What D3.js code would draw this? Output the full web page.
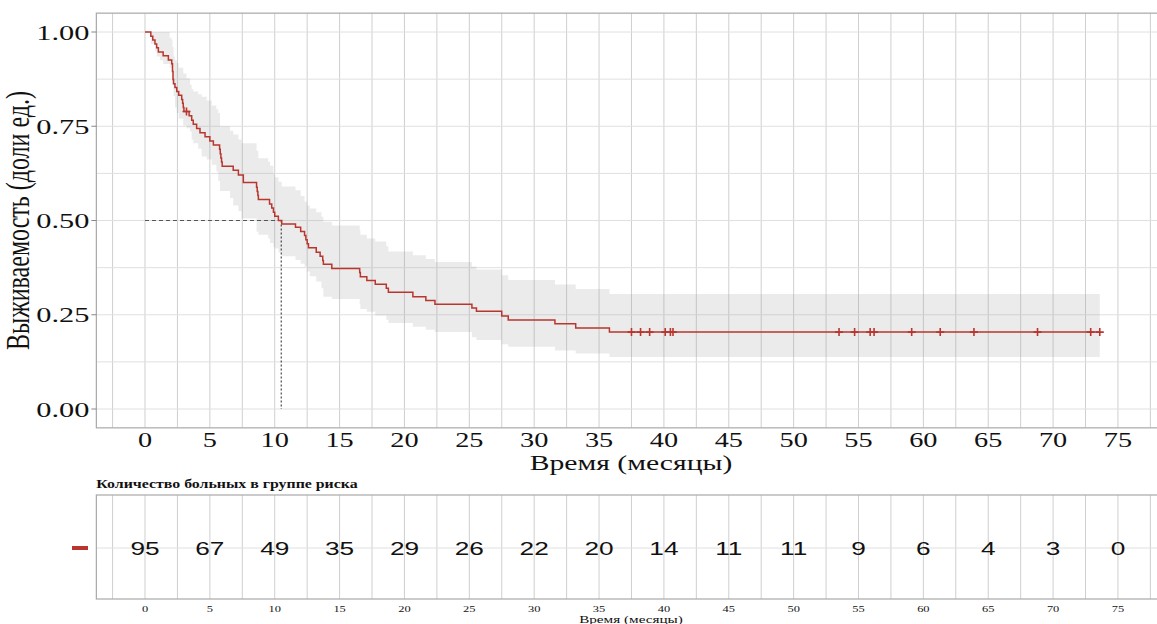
<!DOCTYPE html>
<html>
  <head>
    <meta charset="utf-8">
    <script src="https://cdn.jsdelivr.net/npm/d3@7/dist/d3.min.js"></script>
    <style>
      body { margin: 0; background: #fff; }
      text { font-family: "Liberation Serif", "DejaVu Serif", serif; fill: #111; }
      .grid-v { stroke: #cfcfcf; stroke-width: 1; }
      .grid-h { stroke: #e0e0e0; stroke-width: 1; }
    </style>
  </head>
  <body>
    <script>
      // survival curve steps (months, probability)
      const survTime = [0, 0.45, 0.6, 0.77, 0.9, 1.03, 1.4, 1.8, 2.06, 2.12, 2.16, 2.2, 2.31, 2.45, 2.6, 2.83, 2.9, 2.95, 3.0,
        3.4, 3.6, 3.72, 3.98, 4.24, 4.63, 5.0, 5.27, 5.75, 5.8, 5.85, 5.9, 5.95, 6.8, 7.2, 7.58,
        8.6, 8.65, 8.7, 8.74, 9.6, 9.77, 9.9, 10.0, 10.28, 10.54, 11.6, 12.0, 12.3, 12.4, 12.5, 12.6,
        13.2, 13.5, 13.7, 13.75, 14.4, 16.55, 16.6, 17.1, 17.75, 18.6, 18.76, 20.65, 21.65, 22.35,
        25.2, 25.55, 27.5, 28.0, 31.6, 33.2, 35.8, 73.6];
      const survProb = [1.0, 0.989, 0.979, 0.968, 0.958, 0.947, 0.937, 0.926, 0.916, 0.895, 0.874, 0.863, 0.853, 0.842, 0.832, 0.821, 0.811, 0.8, 0.789,
        0.778, 0.766, 0.755, 0.744, 0.733, 0.722, 0.711, 0.7, 0.689, 0.677, 0.666, 0.655, 0.644, 0.633, 0.621, 0.601,
        0.588, 0.577, 0.566, 0.556, 0.544, 0.533, 0.522, 0.511, 0.5, 0.491, 0.482, 0.471, 0.46, 0.449, 0.438, 0.428,
        0.416, 0.405, 0.394, 0.384, 0.373, 0.362, 0.351, 0.341, 0.331, 0.32, 0.31, 0.298, 0.288, 0.278,
        0.268, 0.259, 0.247, 0.236, 0.226, 0.215, 0.204, 0.204];

      // confidence band (steps)
      const ciTime = [0, 0.45, 0.77, 0.9, 1.15, 1.4, 1.9, 2.06, 2.12, 2.2, 2.31, 2.45, 2.6, 2.95, 3.2, 3.47, 3.6, 3.72,
        4.1, 4.37, 4.76, 5.14, 5.5, 5.65, 5.78, 6.55, 6.8, 7.2, 7.45, 8.6, 8.74, 9.5, 9.64, 9.9, 10.0, 10.3, 10.54,
        11.6, 12.0, 12.3, 12.5, 12.7, 13.2, 13.6, 13.75, 14.4, 16.55, 16.6, 17.1, 17.75, 18.6, 18.76, 20.65, 21.65,
        22.35, 25.2, 25.55, 27.5, 28.0, 31.6, 33.2, 35.8, 73.6];
      const ciLow = [1.0, 0.968, 0.95, 0.935, 0.925, 0.915, 0.905, 0.893, 0.86, 0.83, 0.8, 0.785, 0.77, 0.752, 0.745, 0.736, 0.715, 0.705,
        0.69, 0.67, 0.662, 0.648, 0.63, 0.605, 0.578, 0.56, 0.54, 0.525, 0.505, 0.47, 0.462, 0.452, 0.44, 0.43, 0.426, 0.415, 0.405,
        0.395, 0.385, 0.378, 0.365, 0.352, 0.338, 0.32, 0.298, 0.292, 0.278, 0.265, 0.258, 0.248, 0.237, 0.228, 0.218, 0.21,
        0.204, 0.19, 0.183, 0.172, 0.165, 0.155, 0.147, 0.138, 0.138];
      const ciHigh = [1.0, 1.0, 1.0, 1.0, 1.0, 1.0, 0.985, 0.978, 0.96, 0.935, 0.925, 0.918, 0.905, 0.89, 0.877, 0.86, 0.848, 0.842,
        0.835, 0.828, 0.818, 0.805, 0.795, 0.785, 0.75, 0.738, 0.728, 0.715, 0.705, 0.685, 0.665, 0.656, 0.645, 0.625, 0.615, 0.603, 0.59,
        0.58, 0.565, 0.55, 0.54, 0.532, 0.522, 0.51, 0.497, 0.487, 0.474, 0.462, 0.452, 0.444, 0.432, 0.418, 0.408, 0.398,
        0.39, 0.378, 0.37, 0.355, 0.342, 0.33, 0.318, 0.305, 0.305];

      // censored observations
      const censorTime = [3.2, 37.5, 38.2, 38.9, 40.1, 40.5, 40.7, 53.5, 54.7, 55.9, 56.2, 59.1, 61.3, 63.9, 68.8, 72.9, 73.6];

      const medianTime = 10.5;

      const xTicks = d3.range(0, 76, 5);
      const yTicks = [0, 0.25, 0.5, 0.75, 1.0];
      const atRisk = [95, 67, 49, 35, 29, 26, 22, 20, 14, 11, 11, 9, 6, 4, 3, 0];

      const width = 1157;
      const height = 624;
      const red = '#b8362e';
      const sx = 1.38; // horizontal stretch of the whole figure

      const x = d3.scaleLinear().domain([-3.75, 78.75]).range([96.35, 1166.6]);
      const y = d3.scaleLinear().domain([-0.05, 1.05]).range([427.85, 13.15]);

      const svg = d3.select('body').append('svg')
        .attr('width', width)
        .attr('height', height);

      function label(g, tx, ty, txt, size, anchor, extra) {
        return g.append('text')
          .attr('transform', `translate(${tx},${ty}) scale(${sx},1)` + (extra || ''))
          .attr('text-anchor', anchor)
          .style('font-size', size + 'px')
          .text(txt);
      }

      // ---------- survival panel ----------
      const [px0, px1] = x.range();
      const [py0, py1] = [y(1.05), y(-0.05)];

      svg.append('clipPath').attr('id', 'clip')
        .append('rect').attr('x', px0).attr('y', py0).attr('width', px1 - px0).attr('height', py1 - py0);

      const panel = svg.append('g').attr('clip-path', 'url(#clip)');

      const vLines = d3.range(-2.5, 80, 2.5);
      panel.selectAll('.gv').data(vLines).enter().append('line')
        .attr('class', 'grid-v')
        .attr('x1', d => x(d)).attr('x2', d => x(d))
        .attr('y1', py0).attr('y2', py1);

      const hLines = d3.range(0, 1.01, 0.125);
      panel.selectAll('.gh').data(hLines).enter().append('line')
        .attr('class', 'grid-h')
        .attr('x1', px0).attr('x2', px1)
        .attr('y1', d => y(d)).attr('y2', d => y(d));

      const band = ciTime.map((t, i) => ({t: t, lo: ciLow[i], hi: ciHigh[i]}));
      panel.append('path')
        .datum(band)
        .attr('fill', '#999')
        .attr('fill-opacity', 0.2)
        .attr('d', d3.area().curve(d3.curveStepAfter)
          .x(d => x(d.t)).y0(d => y(d.lo)).y1(d => y(d.hi)));

      // median guide lines
      panel.append('line')
        .attr('x1', x(0)).attr('x2', x(medianTime))
        .attr('y1', y(0.5)).attr('y2', y(0.5))
        .style('stroke', '#555').style('stroke-width', 1).style('stroke-dasharray', '4,3');
      panel.append('line')
        .attr('x1', x(medianTime)).attr('x2', x(medianTime))
        .attr('y1', y(0.5)).attr('y2', y(0))
        .style('stroke', '#222').style('stroke-width', 1).style('stroke-dasharray', '2,2');

      const curve = survTime.map((t, i) => ({t: t, s: survProb[i]}));
      panel.append('path')
        .datum(curve)
        .attr('fill', 'none')
        .attr('stroke', red)
        .attr('stroke-width', 1.5)
        .attr('d', d3.line().curve(d3.curveStepAfter).x(d => x(d.t)).y(d => y(d.s)));

      const survAt = t => {
        let s = 1;
        survTime.forEach((st, i) => { if (st <= t) s = survProb[i]; });
        return s;
      };
      const cens = panel.selectAll('.cens').data(censorTime).enter().append('g')
        .attr('transform', d => `translate(${x(d)},${y(survAt(d))})`)
        .style('stroke', red).style('stroke-width', 1.6);
      cens.append('line').attr('x1', -4).attr('x2', 4).attr('y1', 0).attr('y2', 0);
      cens.append('line').attr('x1', 0).attr('x2', 0).attr('y1', -4).attr('y2', 4);

      svg.append('rect')
        .attr('x', px0).attr('y', py0).attr('width', px1 - px0).attr('height', py1 - py0)
        .attr('fill', 'none').attr('stroke', '#a8a8a8').attr('stroke-width', 1.2);

      // y axis
      yTicks.forEach(v => {
        svg.append('line').attr('x1', px0 - 5).attr('x2', px0).attr('y1', y(v)).attr('y2', y(v))
          .style('stroke', '#888');
        label(svg, px0 - 7, y(v) + 7.5, d3.format('.2f')(v), 22, 'end');
      });
      label(svg, 29, y(0.5), 'Выживаемость (доли ед.)', 24, 'middle', ' rotate(-90)');

      // x axis
      xTicks.forEach(v => {
        label(svg, x(v), 446.5, String(v), 20.5, 'middle');
      });
      label(svg, 631, 470, 'Время (месяцы)', 21.5, 'middle');

      // ---------- risk table ----------
      const ty0 = 495, ty1 = 599, tyc = 548;
      svg.append('clipPath').attr('id', 'clip2')
        .append('rect').attr('x', px0).attr('y', ty0).attr('width', px1 - px0).attr('height', ty1 - ty0);
      const table = svg.append('g').attr('clip-path', 'url(#clip2)');
      table.selectAll('.tv').data(vLines).enter().append('line')
        .attr('class', 'grid-v')
        .attr('x1', d => x(d)).attr('x2', d => x(d))
        .attr('y1', ty0).attr('y2', ty1);
      table.append('line').attr('class', 'grid-h')
        .attr('x1', px0).attr('x2', px1).attr('y1', tyc).attr('y2', tyc);
      svg.append('rect')
        .attr('x', px0).attr('y', ty0).attr('width', px1 - px0).attr('height', ty1 - ty0)
        .attr('fill', 'none').attr('stroke', '#a8a8a8').attr('stroke-width', 1.2);

      xTicks.forEach((v, i) => {
        label(svg, x(v), tyc + 7, String(atRisk[i]), 19, 'middle')
          .style('font-family', '"Liberation Sans", Arial, sans-serif');
        label(svg, x(v), 612, String(v), 9, 'middle');
      });

      label(svg, px0, 488, 'Количество больных в группе риска', 11.5, 'start')
        .style('font-weight', 'bold');
      label(svg, 631, 623, 'Время (месяцы)', 11, 'middle');

      svg.append('line')
        .attr('x1', 72).attr('x2', 88).attr('y1', tyc).attr('y2', tyc)
        .style('stroke', red).style('stroke-width', 4);
    </script>
  </body>
</html>
